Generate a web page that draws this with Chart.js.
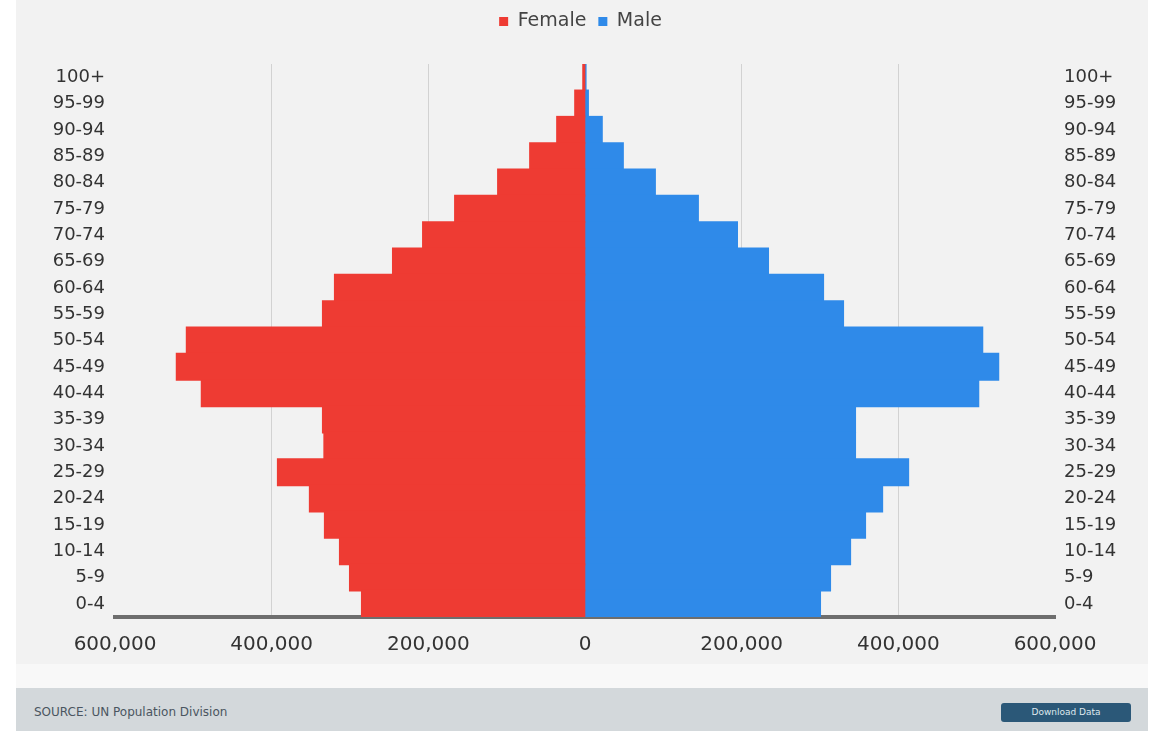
<!DOCTYPE html>
<html>
<head>
<meta charset="utf-8">
<script src="https://cdn.jsdelivr.net/npm/chart.js@4.4.1/dist/chart.umd.min.js"></script>
<style>
    html, body {
        margin: 0;
        padding: 0;
        background: #ffffff;
        width: 1161px;
        height: 731px;
        overflow: hidden;
        font-family: "DejaVu Sans", sans-serif;
    }

    #panel {
        position: absolute;
        left: 16px;
        top: 0;
        width: 1132px;
        height: 688px;
        background: #f2f2f2;
    }

    #band {
        position: absolute;
        left: 16px;
        top: 664px;
        width: 1132px;
        height: 24px;
        background: #f8f8f8;
    }

    #wrap {
        position: absolute;
        left: 0;
        top: 0;
        width: 1161px;
        height: 688px;
    }

    #footer {
        position: absolute;
        left: 16px;
        top: 688px;
        width: 1132px;
        height: 43px;
        background: #d3d8db;
    }

    #source {
        position: absolute;
        left: 18px;
        top: 17px;
        font-size: 12px;
        color: #4a5560;
    }

    #btn {
        position: absolute;
        left: 985px;
        top: 15px;
        width: 130px;
        height: 19px;
        border-radius: 3px;
        background: #2b5878;
        color: #dfe8ee;
        font-size: 9px;
        line-height: 19px;
        text-align: center;
    }
</style>
</head>
<body>

<div id="panel"></div>
<div id="band"></div>

<div id="wrap">
    <canvas id="pyramid" width="1161" height="688"></canvas>
</div>

<div id="footer">
    <div id="source">SOURCE: UN Population Division</div>
    <div id="btn">Download Data</div>
</div>

<script>

// age groups, top to bottom as in the picture
const ageGroups = [
    "100+", "95-99", "90-94", "85-89", "80-84", "75-79", "70-74",
    "65-69", "60-64", "55-59", "50-54", "45-49", "40-44", "35-39",
    "30-34", "25-29", "20-24", "15-19", "10-14", "5-9", "0-4"
];

const femaleValues = [
    2500, 12800, 35800, 70300, 111200, 166100, 207000,
    245400, 319500, 334800, 508600, 521400, 489500, 334800,
    333000, 392300, 351500, 332300, 313100, 300300, 285000
];

const maleValues = [
    1000, 4000, 21700, 48600, 89500, 144400, 194300,
    233900, 304200, 329700, 507400, 527800, 502300, 345000,
    345000, 412800, 379600, 357800, 338700, 313100, 300300
];

const xTicks = [-600000, -400000, -200000, 0, 200000, 400000, 600000];


Chart.defaults.font.family = "DejaVu Sans";

Chart.defaults.color = "#3a3a3a";


const legendHeight = {

    id: "legendHeight",

    beforeInit(chart) {

        const fit = chart.legend.fit;

        chart.legend.fit = function () {

            fit.bind(chart.legend)();

            this.height = 64;

        };

    }

};


const canvas = document.getElementById("pyramid");


new Chart(canvas, {

    type: "bar",

    data: {

        labels: ageGroups,

        datasets: [
            {
                label: "Female",
                data: femaleValues.map(v => -v),
                backgroundColor: "#ee3b33",
                borderWidth: 0,
                inflateAmount: 0.8,
                barPercentage: 1,
                categoryPercentage: 1
            },
            {
                label: "Male",
                data: maleValues,
                backgroundColor: "#2f8ae9",
                borderWidth: 0,
                inflateAmount: 0.8,
                barPercentage: 1,
                categoryPercentage: 1
            }
        ]

    },

    options: {

        indexAxis: "y",

        responsive: false,

        animation: false,

        layout: {
            padding: 0
        },

        scales: {

            x: {
                stacked: true,
                min: xTicks[0],
                max: xTicks[xTicks.length - 1],
                afterBuildTicks: scale => {
                    scale.ticks = xTicks.map(v => ({ value: v }));
                },
                afterFit: scale => {
                    scale.height = 71;
                },
                grid: {
                    drawTicks: false,
                    color: ctx =>
                        Math.abs(ctx.tick.value) === 600000 || ctx.tick.value === 0
                            ? "rgba(0,0,0,0)"
                            : "#d2d2d2"
                },
                border: {
                    color: "#6e6e6e",
                    width: 4
                },
                ticks: {
                    padding: 16,
                    color: "#333333",
                    font: { size: 20 },
                    callback: value => Math.abs(value).toLocaleString("en-US")
                }
            },

            y: {
                stacked: true,
                position: "left",
                afterFit: scale => {
                    scale.width = 115;
                },
                grid: { display: false },
                border: { display: false },
                ticks: {
                    padding: 2,
                    color: "#333333",
                    font: { size: 18 }
                }
            },

            y2: {
                type: "category",
                position: "right",
                labels: ageGroups,
                offset: true,
                afterFit: scale => {
                    scale.width = 106;
                },
                grid: { display: false },
                border: { display: false },
                ticks: {
                    padding: 1,
                    color: "#333333",
                    font: { size: 18 }
                }
            }

        },

        plugins: {

            legend: {
                position: "top",
                labels: {
                    boxWidth: 9,
                    boxHeight: 9,
                    padding: 12,
                    color: "#444444",
                    font: { size: 19 }
                }
            },

            tooltip: { enabled: false }

        }

    },

    plugins: [legendHeight]

});

</script>
</body>
</html>
